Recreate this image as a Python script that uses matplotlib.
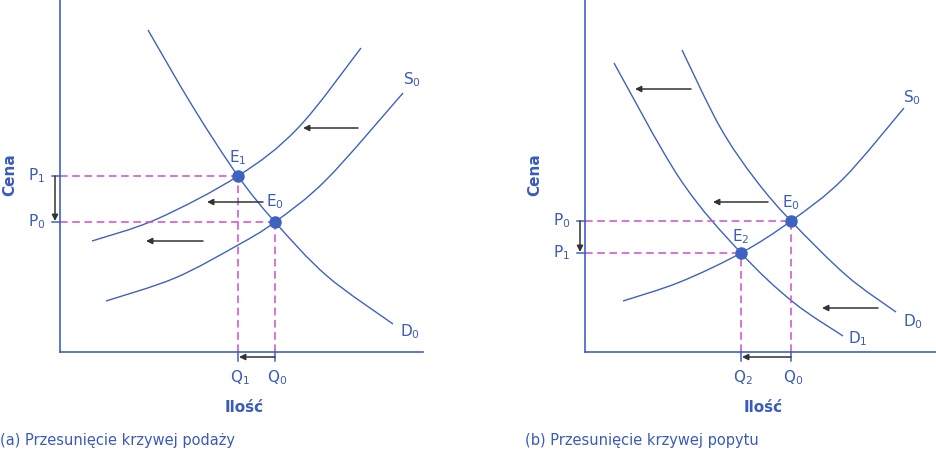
import matplotlib.pyplot as plt
from matplotlib.path import Path
from matplotlib.patches import PathPatch

plt.rcParams['font.family'] = 'DejaVu Sans'
plt.rcParams['mathtext.default'] = 'regular'

BLUE = '#3f62c0'
TXT = '#3a5bb8'
PINK = '#cc4fcc'
ARR = '#333333'

# panel (a): supply shift (quantity, price)
a_d0_q = [88, 133, 178, 215, 267, 333]
a_d0_p = [322, 245, 176, 130, 76, 28]
a_s0_q = [46, 115, 178, 215, 267, 343]
a_s0_p = [51, 74, 107, 130, 173, 259]
a_s1_q = [32, 97, 178, 238, 301]
a_s1_p = [111, 133, 176, 224, 304]
a_eq_q = [178, 215]     # E1, E0
a_eq_p = [176, 130]
a_shift_p = [224, 150, 111]
a_shift_from = [298, 203, 143]
a_shift_to = [243, 147, 86]

# panel (b): demand shift
b_d0_q = [97, 135, 170, 206, 262, 311]
b_d0_p = [302, 225, 173, 131, 76, 40]
b_d1_q = [29, 95, 156, 208, 258]
b_d1_p = [289, 173, 99, 50, 16]
b_s0_q = [38, 95, 156, 206, 258, 319]
b_s0_p = [51, 70, 99, 131, 173, 244]
b_eq_q = [206, 156]     # E0, E2
b_eq_p = [131, 99]
b_shift_p = [263, 150, 44]
b_shift_from = [106, 183, 293]
b_shift_to = [50, 128, 237]

fig = plt.figure(figsize=(9.36, 4.52), dpi=100)
axa = fig.add_axes([60 / 936, 99 / 452, 370 / 936, 353 / 452])
axb = fig.add_axes([585 / 936, 99 / 452, 351 / 936, 353 / 452])


def setup(ax, xmax, xend):
    ax.set_xlim(0, xmax)
    ax.set_ylim(0, 353)
    ax.set_xticks([])
    ax.set_yticks([])
    for s in ['top', 'right']:
        ax.spines[s].set_visible(False)
    for s in ['left', 'bottom']:
        ax.spines[s].set_color(BLUE)
        ax.spines[s].set_linewidth(1.2)
    ax.spines['bottom'].set_bounds(0, xend)
    ax.patch.set_alpha(0)


def curve(ax, xs, ys):
    # smooth bezier through the read points (catmull-rom style handles)
    pts = list(zip(xs, ys))
    verts = [pts[0]]
    codes = [Path.MOVETO]
    n = len(pts)
    for i in range(n - 1):
        p0 = pts[max(i - 1, 0)]
        p1 = pts[i]
        p2 = pts[i + 1]
        p3 = pts[min(i + 2, n - 1)]
        c1 = (p1[0] + (p2[0] - p0[0]) / 6, p1[1] + (p2[1] - p0[1]) / 6)
        c2 = (p2[0] - (p3[0] - p1[0]) / 6, p2[1] - (p3[1] - p1[1]) / 6)
        verts += [c1, c2, p2]
        codes += [Path.CURVE4] * 3
    ax.add_patch(PathPatch(Path(verts, codes), fill=False, edgecolor=BLUE, lw=1.0))


def arrow(ax, x0, y0, x1, y1):
    ax.annotate('', xy=(x1, y1), xytext=(x0, y0), annotation_clip=False,
                arrowprops=dict(arrowstyle='-|>', color=ARR, lw=1.1,
                                mutation_scale=9, shrinkA=0, shrinkB=0))


def txt(ax, x, y, s, **kw):
    ax.text(x, y, s, color=TXT, fontsize=11, ha='center', va='center',
            clip_on=False, **kw)


def panel(ax, eq_q, eq_p, names_p, names_q, names_e, e_off):
    # dashed guides
    for q, p in zip(eq_q, eq_p):
        ax.plot([0, q], [p, p], color=PINK, lw=1.1, ls=(0, (5, 3)), clip_on=False)
        ax.plot([q, q], [0, p], color=PINK, lw=1.1, ls=(0, (5, 3)), clip_on=False)
    # price change bracket
    for p in eq_p:
        ax.plot([-8, 0], [p, p], color=BLUE, lw=1.1, clip_on=False)
    arrow(ax, -5, max(eq_p), -5, min(eq_p) + 1)
    # quantity change bracket
    for q in eq_q:
        ax.plot([q, q], [-9, 0], color=BLUE, lw=1.1, clip_on=False)
    arrow(ax, max(eq_q), -5, min(eq_q) + 1, -5)
    ax.plot(eq_q, eq_p, 'o', color=BLUE, ms=8, zorder=5, clip_on=False)
    for p, s in zip(eq_p, names_p):
        txt(ax, -23, p + 1, s)
    for q, s in zip(eq_q, names_q):
        txt(ax, q + 2, -25, s)
    for q, p, s, (dx, dy) in zip(eq_q, eq_p, names_e, e_off):
        txt(ax, q + dx, p + dy, s)
    txt(ax, -50, 178, 'Cena', rotation=90, fontweight='bold')


setup(axa, 370, 363)
for q, p in [(a_d0_q, a_d0_p), (a_s0_q, a_s0_p), (a_s1_q, a_s1_p)]:
    curve(axa, q, p)
for p, x0, x1 in zip(a_shift_p, a_shift_from, a_shift_to):
    arrow(axa, x0, p, x1, p)
panel(axa, a_eq_q, a_eq_p, ['P$_1$', 'P$_0$'], ['Q$_1$', 'Q$_0$'],
      ['E$_1$', 'E$_0$'], [(0, 19), (0, 21)])
txt(axa, 352, 273, 'S$_0$')
txt(axa, 350, 21, 'D$_0$')
txt(axa, 184, -55, 'Ilość', fontweight='bold')

setup(axb, 351, 351)
for q, p in [(b_d0_q, b_d0_p), (b_d1_q, b_d1_p), (b_s0_q, b_s0_p)]:
    curve(axb, q, p)
for p, x0, x1 in zip(b_shift_p, b_shift_from, b_shift_to):
    arrow(axb, x0, p, x1, p)
panel(axb, b_eq_q, b_eq_p, ['P$_0$', 'P$_1$'], ['Q$_0$', 'Q$_2$'],
      ['E$_0$', 'E$_2$'], [(0, 19), (0, 17)])
txt(axb, 327, 255, 'S$_0$')
txt(axb, 328, 31, 'D$_0$')
txt(axb, 273, 14, 'D$_1$')
txt(axb, 178, -55, 'Ilość', fontweight='bold')

fig.text(0, 1 - 441 / 452, '(a) Przesunięcie krzywej podaży', color=TXT,
         fontsize=10.5, va='center', ha='left')
fig.text(525 / 936, 1 - 441 / 452, '(b) Przesunięcie krzywej popytu', color=TXT,
         fontsize=10.5, va='center', ha='left')

fig.savefig('out.png', dpi=100)
